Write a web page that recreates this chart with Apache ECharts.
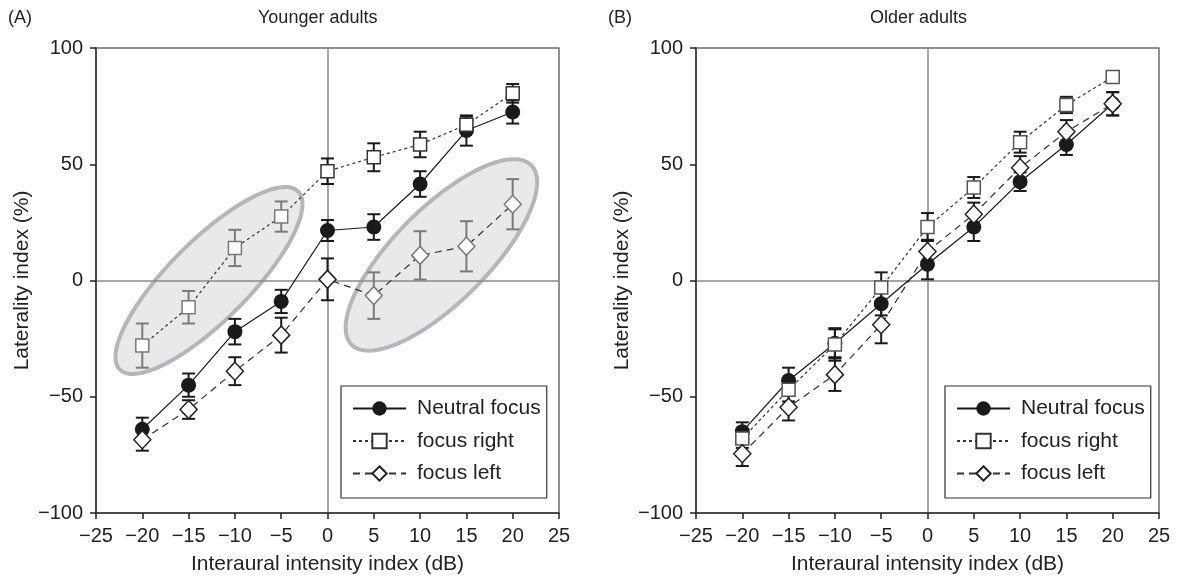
<!DOCTYPE html>
<html><head><meta charset="utf-8">
<script src="https://cdn.jsdelivr.net/npm/echarts@6/dist/echarts.min.js"></script>
<style>html,body{margin:0;padding:0;background:#fff}#c{width:1178px;height:582px}</style>
</head><body><div id="c"></div>
<script>
// ---------- data ----------
const xVals = [-20, -15, -10, -5, 0, 5, 10, 15, 20];
const xTickLabels = [-25, -20, -15, -10, -5, 0, 5, 10, 15, 20, 25];
const yTickLabels = [-100, -50, 0, 50, 100];
const seriesNames = ['Neutral focus', 'focus right', 'focus left'];
const panelTitles = ['Younger adults', 'Older adults'];
const panelLetters = ['(A)', '(B)'];

// Younger adults
const youngNeutral    = [-64, -45, -22, -9, 21.5, 23, 41.5, 64.5, 72.5];
const youngNeutralErr = [5, 5, 5.5, 5, 4.5, 5.5, 5.5, 6.5, 5];
const youngRight      = [-28, -11.5, 14, 27.5, 47, 53, 58.5, 67, 80.5];
const youngRightErr   = [9.5, 7, 7.8, 6.5, 5.5, 6, 5.5, 3.5, 4];
const youngLeft       = [-68.5, -55.5, -39, -23.5, 0.5, -6.5, 10.8, 14.7, 32.8];
const youngLeftErr    = [4.7, 4, 6, 7.5, 9, 10, 10.4, 10.8, 10.8];
const youngRightGreyed = [0, 1, 2, 3];
const youngLeftGreyed  = [5, 6, 7, 8];
const youngEllipseCenters = [[-12.8, 0], [12.3, 11]];

// Older adults
const oldNeutral    = [-65, -43, -27, -10, 7, 23, 42.5, 58.5, 76];
const oldNeutralErr = [4, 5.5, 6, 5, 6.5, 6, 4, 4.5, 5];
const oldRight      = [-68, -47, -27.5, -3, 23, 40, 59.5, 75.5, 87.5];
const oldRightErr   = [4, 5, 7, 6.5, 6, 4.5, 4.5, 3.5, 1];
const oldLeft       = [-74.5, -54.5, -40.5, -19, 12.5, 28.5, 48.5, 64, 76];
const oldLeftErr    = [5.3, 5.7, 7, 8, 5, 5, 5, 5, 5];

// ---------- styling ----------
const FONT = "'Liberation Sans', Arial, sans-serif";
const DARK = '#1a1a1a';
const GREY = '#7a7a7a';
const gridLefts = [96, 696];
const fmtMinus = v => String(v).replace('-', '\u2212');

const panels = [
  { n: youngNeutral, ne: youngNeutralErr, r: youngRight, re: youngRightErr, l: youngLeft, le: youngLeftErr,
    rGrey: youngRightGreyed, lGrey: youngLeftGreyed, ellipses: youngEllipseCenters, rColor: '#333' },
  { n: oldNeutral, ne: oldNeutralErr, r: oldRight, re: oldRightErr, l: oldLeft, le: oldLeftErr,
    rGrey: [], lGrey: [], ellipses: [], rColor: '#555' }
];

const grid = [], xAxis = [], yAxis = [], series = [], title = [], legend = [];
const xMin = xTickLabels[0], xMax = xTickLabels[xTickLabels.length - 1], xInt = xTickLabels[1] - xTickLabels[0];
const yMin = yTickLabels[0], yMax = yTickLabels[yTickLabels.length - 1], yInt = yTickLabels[1] - yTickLabels[0];

function errSeries(name, ax, vals, errs, colorOf) {
  return {
    type: 'custom', name: name, xAxisIndex: ax, yAxisIndex: ax, z: 2, silent: true,
    data: xVals.map((x, i) => [x, vals[i] - errs[i], vals[i] + errs[i], i]),
    encode: { x: 0, y: [1, 2] },
    renderItem: function (params, api) {
      const x = api.value(0), lo = api.value(1), hi = api.value(2), i = api.value(3);
      const pt = api.coord([x, hi]), pb = api.coord([x, lo]);
      const hw = 6.5;
      const st = { stroke: colorOf(i), lineWidth: 2, fill: null };
      return { type: 'group', children: [
        { type: 'line', shape: { x1: pt[0], y1: pt[1], x2: pb[0], y2: pb[1] }, style: st },
        { type: 'line', shape: { x1: pt[0] - hw, y1: pt[1], x2: pt[0] + hw, y2: pt[1] }, style: st },
        { type: 'line', shape: { x1: pb[0] - hw, y1: pb[1], x2: pb[0] + hw, y2: pb[1] }, style: st }
      ]};
    }
  };
}

panels.forEach((p, g) => {
  const ax = g * 2;
  grid.push({ left: gridLefts[g], top: 48, width: 463, height: 465, show: true,
    borderColor: '#8a8a8a', borderWidth: 1.5, backgroundColor: 'transparent' });
  // main axes
  xAxis.push({ type: 'value', gridIndex: g, min: xMin, max: xMax, interval: xInt, position: 'bottom', z: 5,
    axisLine: { onZero: false, lineStyle: { color: '#333', width: 1.5 } },
    axisTick: { show: true, inside: false, length: 6, lineStyle: { color: '#222', width: 1.5 } },
    axisLabel: { margin: 13, fontSize: 20, color: '#222', fontFamily: FONT, formatter: fmtMinus },
    splitLine: { show: false },
    name: 'Interaural intensity index (dB)', nameLocation: 'middle', nameGap: 41,
    nameTextStyle: { fontSize: 21, color: '#222', fontFamily: FONT } });
  // auxiliary axis that draws the x = 0 line
  xAxis.push({ type: 'value', gridIndex: g, min: xMin, max: xMax, interval: -xMin, position: 'top', z: 1,
    axisLine: { show: false }, axisTick: { show: false }, axisLabel: { show: false },
    splitLine: { show: true, lineStyle: { color: '#8a8a8a', width: 1.5 } } });
  yAxis.push({ type: 'value', gridIndex: g, min: yMin, max: yMax, interval: yInt, position: 'left', z: 5,
    axisLine: { show: true, onZero: false, lineStyle: { color: '#333', width: 1.5 } },
    axisTick: { show: true, inside: false, length: 6, lineStyle: { color: '#222', width: 1.5 } },
    axisLabel: { margin: 13, fontSize: 20, color: '#222', fontFamily: FONT, formatter: fmtMinus },
    splitLine: { show: false },
    name: 'Laterality index (%)', nameLocation: 'middle', nameGap: 63,
    nameTextStyle: { fontSize: 21, color: '#222', fontFamily: FONT } });
  // auxiliary axis that draws the y = 0 line
  yAxis.push({ type: 'value', gridIndex: g, min: yMin, max: yMax, interval: -yMin, position: 'right', z: 1,
    axisLine: { show: false }, axisTick: { show: false }, axisLabel: { show: false },
    splitLine: { show: true, lineStyle: { color: '#8a8a8a', width: 1.5 } } });

  // ellipses (annotation)
  if (p.ellipses.length) {
    const radii = [[126, 40], [127, 47]];
    series.push({
      type: 'custom', name: 'ellipse' + g, xAxisIndex: ax, yAxisIndex: ax, z: 0, silent: true,
      data: p.ellipses.map((c, k) => [c[0], c[1], k]),
      encode: { x: 0, y: 1 },
      renderItem: function (params, api) {
        const c = api.coord([api.value(0), api.value(1)]);
        const k = api.value(2);
        const a = radii[k][0], b = radii[k][1], th = Math.PI / 4;
        const pts = [];
        for (let s = 0; s < 120; s++) {
          const t = s / 120 * Math.PI * 2;
          const ex = a * Math.cos(t), ey = b * Math.sin(t);
          pts.push([c[0] + ex * Math.cos(th) - ey * Math.sin(th), c[1] - (ex * Math.sin(th) + ey * Math.cos(th))]);
        }
        return { type: 'polygon', shape: { points: pts }, style: { fill: '#e9e9eb', stroke: '#b6b6b6', lineWidth: 4 } };
      }
    });
  }

  series.push(errSeries('e_n' + g, ax, p.n, p.ne, () => DARK));
  series.push(errSeries('e_r' + g, ax, p.r, p.re, i => p.rGrey.includes(i) ? GREY : DARK));
  series.push(errSeries('e_l' + g, ax, p.l, p.le, i => p.lGrey.includes(i) ? GREY : DARK));

  series.push({ type: 'line', name: seriesNames[0], xAxisIndex: ax, yAxisIndex: ax, z: 3,
    data: xVals.map((x, i) => [x, p.n[i]]), symbol: 'circle', symbolSize: 15,
    lineStyle: { color: DARK, width: 1.2, type: 'solid' },
    itemStyle: { color: DARK, borderColor: DARK, borderWidth: 0 }, emphasis: { disabled: true } });
  series.push({ type: 'line', name: seriesNames[1], xAxisIndex: ax, yAxisIndex: ax, z: 3,
    data: xVals.map((x, i) => p.rGrey.includes(i)
      ? { value: [x, p.r[i]], itemStyle: { borderColor: GREY } }
      : [x, p.r[i]]),
    symbol: 'rect', symbolSize: 13,
    lineStyle: { color: '#333', width: 1.2, type: [3, 3] },
    itemStyle: { color: '#fff', borderColor: p.rColor, borderWidth: 1.5 }, emphasis: { disabled: true } });
  series.push({ type: 'line', name: seriesNames[2], xAxisIndex: ax, yAxisIndex: ax, z: 3,
    data: xVals.map((x, i) => p.lGrey.includes(i)
      ? { value: [x, p.l[i]], itemStyle: { borderColor: GREY } }
      : [x, p.l[i]]),
    symbol: 'diamond', symbolSize: [17, 18],
    lineStyle: { color: '#333', width: 1.2, type: [7, 5] },
    itemStyle: { color: '#fff', borderColor: '#222', borderWidth: 1.5 }, emphasis: { disabled: true } });

  title.push({ text: panelLetters[g], left: gridLefts[g] - 88, top: 9, padding: 0,
    textStyle: { fontSize: 18, fontWeight: 'normal', color: '#222', fontFamily: FONT } });
  title.push({ text: panelTitles[g], left: [258, 870][g], top: 9, padding: 0,
    textStyle: { fontSize: 18, fontWeight: 'normal', color: '#222', fontFamily: FONT } });

  legend.push({ orient: 'vertical', left: [341, 945][g], top: 386, data: seriesNames,
    itemWidth: 53, itemHeight: 18, itemGap: 11.5, padding: [12, 6, 14, 11],
    borderColor: '#333', borderWidth: 1.2, selectedMode: false,
    textStyle: { fontSize: 21, color: '#222', fontFamily: FONT, padding: [0, 0, 0, 6], lineHeight: 21 } });
});

const chart = echarts.init(document.getElementById('c'), null, { renderer: 'canvas' });
chart.setOption({ animation: false, backgroundColor: '#fff', title, legend, grid, xAxis, yAxis, series, tooltip: { show: false } });
</script></body></html>
